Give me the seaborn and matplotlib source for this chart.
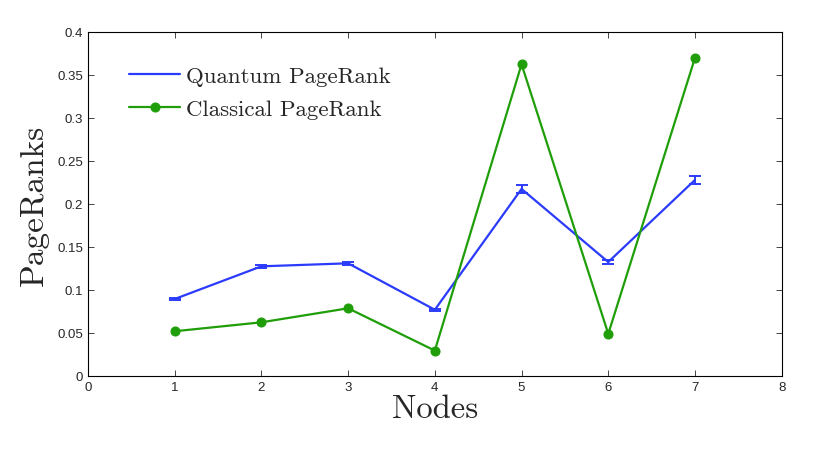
import numpy as np
import pandas as pd
import matplotlib.pyplot as plt
import seaborn as sns

# values
nodes = [1, 2, 3, 4, 5, 6, 7]
quantum = [0.0895, 0.1275, 0.131, 0.077, 0.2175, 0.1325, 0.228]
quantum_err = [0.001, 0.002, 0.0015, 0.001, 0.005, 0.002, 0.005]
classical = [0.052, 0.0624, 0.0787, 0.0295, 0.3625, 0.049, 0.370]

blue = '#2b3bfb'
green = '#1f9e0a'

sns.set_style('ticks')
plt.rcParams['font.family'] = ['Liberation Sans', 'DejaVu Sans']

df = pd.DataFrame({'Nodes': nodes, 'Quantum': quantum, 'Classical': classical})

fig = plt.figure(figsize=(8.22, 4.52), dpi=100)
ax = fig.add_axes([0.107, 0.166, 0.844, 0.761])

sns.lineplot(data=df, x='Nodes', y='Quantum', ax=ax, color=blue, linewidth=1.6,
             label='Quantum PageRank')
ax.errorbar(nodes, quantum, yerr=quantum_err, fmt='none', ecolor=blue,
            elinewidth=1.4, capsize=4, capthick=1.4)
sns.lineplot(data=df, x='Nodes', y='Classical', ax=ax, color=green, linewidth=1.6,
             marker='o', markersize=6.5, markeredgecolor=green,
             label='Classical PageRank')

ax.set_xlim(0, 8)
ax.set_ylim(0, 0.4)
ax.set_xticks(range(0, 9))
ax.set_yticks(np.arange(0, 0.41, 0.05))
ax.set_yticklabels(['0', '0.05', '0.1', '0.15', '0.2', '0.25', '0.3', '0.35', '0.4'])
ax.tick_params(direction='in', top=True, right=True, labelsize=9.5, length=4, width=0.6)
for s in ax.spines.values():
    s.set_linewidth(0.8)
    s.set_color('black')

ax.set_xlabel('Nodes', family='cmr10', fontsize=23.5, labelpad=1)
ax.set_ylabel('PageRanks', family='cmr10', fontsize=24, labelpad=6)

leg = ax.legend(loc='upper left', frameon=False,
                prop={'family': 'cmr10', 'size': 16.5}, handlelength=2.2,
                bbox_to_anchor=(0.03, 0.96), labelspacing=0.55, handletextpad=0.25)

fig.savefig('out.png', dpi=100)
